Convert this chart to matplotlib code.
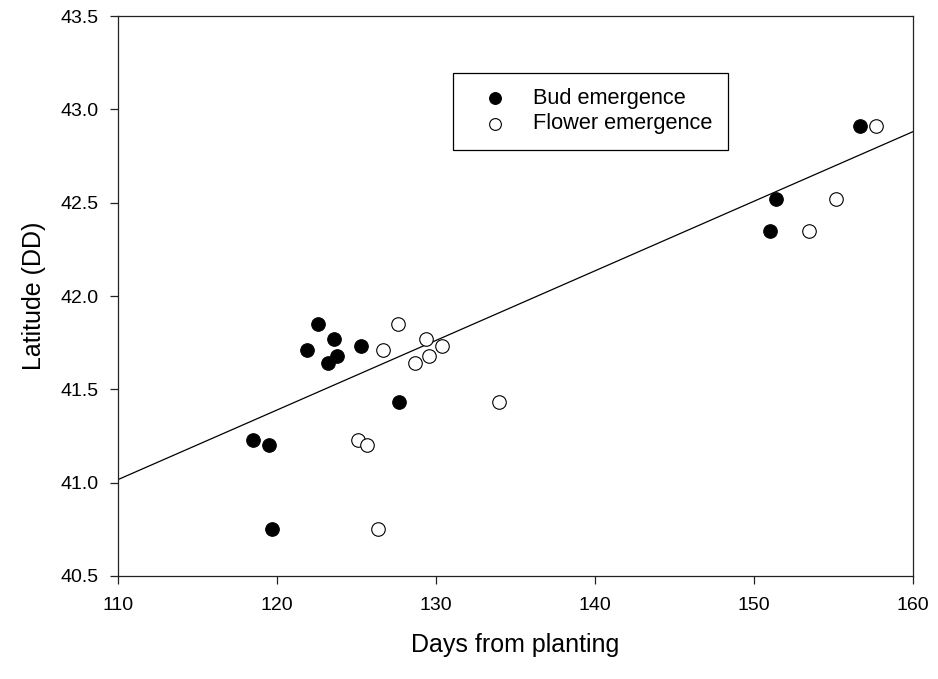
import matplotlib
matplotlib.use("Agg")
import matplotlib.pyplot as plt
import numpy as np

plt.rcParams['font.family'] = ['Liberation Sans', 'DejaVu Sans']

# Bud emergence (days from planting, latitude)
bud_days = [118.5, 119.5, 119.7, 121.9, 122.6, 123.6, 123.2, 123.8, 125.3, 127.7, 151.0, 151.4, 156.7]
bud_lat = [41.23, 41.20, 40.75, 41.71, 41.85, 41.77, 41.64, 41.68, 41.73, 41.43, 42.35, 42.52, 42.91]

# Flower emergence
flower_days = [125.1, 125.7, 126.4, 126.7, 127.6, 128.7, 129.4, 129.6, 130.4, 134.0, 153.5, 155.2, 157.7]
flower_lat = [41.23, 41.20, 40.75, 41.71, 41.85, 41.64, 41.77, 41.68, 41.73, 41.43, 42.35, 42.52, 42.91]

# Fitted trend line: latitude = intercept + slope * days
fit_intercept = 36.915
fit_slope = 0.03728
fit_range = [110, 160]

x_ticks = [110, 120, 130, 140, 150, 160]
y_ticks = [40.5, 41.0, 41.5, 42.0, 42.5, 43.0, 43.5]

fig = plt.figure(figsize=(9.38, 6.79), dpi=100)
ax = fig.add_axes([0.1255, 0.1517, 0.973 - 0.1255, 0.9764 - 0.1517])

fx = np.array(fit_range, dtype=float)
ax.plot(fx, fit_intercept + fit_slope * fx, color='black', lw=0.9, zorder=2)

ax.scatter(bud_days, bud_lat, s=95, facecolor='black', edgecolor='black',
           linewidths=0.8, zorder=3, label='Bud emergence')
ax.scatter(flower_days, flower_lat, s=95, facecolor='white', edgecolor='black',
           linewidths=0.8, zorder=3, label='Flower emergence')

ax.set_xlim(110, 160)
ax.set_ylim(40.5, 43.5)
ax.set_xticks(x_ticks)
ax.set_xticklabels([str(t) for t in x_ticks])
ax.set_yticks(y_ticks)
ax.set_yticklabels([f"{t:.1f}" for t in y_ticks])

for sp in ax.spines.values():
    sp.set_linewidth(0.9)
    sp.set_color('#222222')
ax.tick_params(direction='out', length=6, width=0.9, labelsize=14, colors='#222222',
               labelcolor='black', pad=9)
ax.tick_params(axis='y', pad=8)

ax.set_xlabel('Days from planting', fontsize=18, labelpad=14)
ax.set_ylabel('Latitude (DD)', fontsize=18, labelpad=10)

leg = ax.legend(loc='upper left', bbox_to_anchor=(453.3 / 938, 1 - 72.7 / 679),
                bbox_transform=fig.transFigure, fontsize=15.7, frameon=True,
                fancybox=False, edgecolor='black', framealpha=1,
                borderpad=0.7, labelspacing=0.2, handletextpad=0.55,
                handlelength=2.4, borderaxespad=0, markerscale=0.87)
leg.get_frame().set_linewidth(0.9)

fig.savefig('out.png', dpi=100)
